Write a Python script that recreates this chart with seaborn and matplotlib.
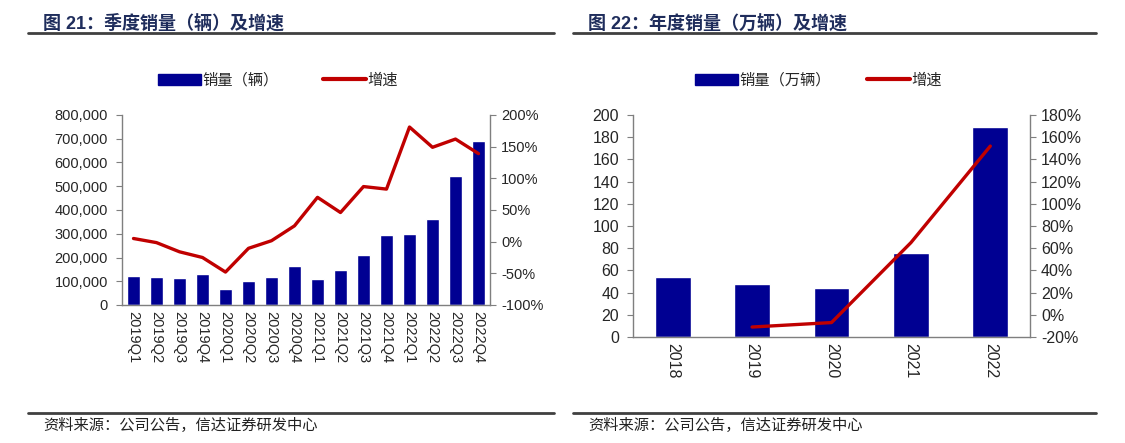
import matplotlib
matplotlib.use("Agg")
import matplotlib.pyplot as plt
import seaborn as sns
import numpy as np
import pandas as pd
from matplotlib.lines import Line2D
from matplotlib.patches import Patch
from matplotlib.ticker import FuncFormatter, PercentFormatter, FixedLocator

# ---- data ----
quarters = ["2019Q1", "2019Q2", "2019Q3", "2019Q4", "2020Q1", "2020Q2", "2020Q3", "2020Q4",
            "2021Q1", "2021Q2", "2021Q3", "2021Q4", "2022Q1", "2022Q2", "2022Q3", "2022Q4"]
q_sales = [124000, 116500, 114000, 132000, 67500, 102500, 116500, 165500,
           111000, 149000, 212000, 293000, 297500, 362000, 544500, 689000]
q_growth = [5, -1.5, -16, -25, -48, -10.5, 1.5, 25,
            70, 46, 87, 83, 181, 149, 162, 139]

years = ["2018", "2019", "2020", "2021", "2022"]
y_sales = [53.8, 47.8, 44.2, 75.8, 188.9]
y_growth = [np.nan, -11, -7, 65, 152]

titles = ["图 21：季度销量（辆）及增速", "图 22：年度销量（万辆）及增速"]
bar_labels = ["销量（辆）", "销量（万辆）"]
line_label = "增速"
source = "资料来源：公司公告，信达证券研发中心"

BLUE = "#000092"
RED = "#C00000"
GRID = "#7f7f7f"

sns.set_style("white")
plt.rcParams["font.family"] = ["Liberation Sans", "Noto Sans CJK SC", "DejaVu Sans"]
plt.rcParams["axes.unicode_minus"] = False

fig = plt.figure(figsize=(11.25, 4.43), dpi=100)

ax1 = fig.add_axes([122 / 1125, 1 - 305 / 443, 368 / 1125, 190 / 443])
ax2 = fig.add_axes([633 / 1125, 1 - 337 / 443, 397 / 1125, 222 / 443])

qdf = pd.DataFrame({"q": quarters, "sales": q_sales, "growth": q_growth, "pos": np.arange(len(quarters))})
ydf = pd.DataFrame({"y": years, "sales": y_sales, "growth": y_growth, "pos": np.arange(len(years))})


def style_axes(ax, axr, n, fs):
    for a in (ax, axr):
        for s in a.spines.values():
            s.set_color(GRID)
            s.set_linewidth(1)
        a.spines["top"].set_visible(False)
    ax.spines["right"].set_visible(False)
    axr.spines["left"].set_visible(False)
    axr.spines["bottom"].set_visible(False)
    ax.set_xlim(-0.5, n - 0.5)
    ax.set_xlabel("")
    ax.set_ylabel("")
    axr.set_ylabel("")
    axr.set_xlabel("")
    ax.tick_params(axis="y", direction="out", length=4, color=GRID, labelsize=fs, pad=6)
    axr.tick_params(axis="y", direction="out", length=4, color=GRID, labelsize=fs, pad=4)
    # ticks at category boundaries, labels at the centres
    ax.xaxis.set_minor_locator(FixedLocator(np.arange(n + 1) - 0.5))
    ax.tick_params(axis="x", which="major", length=0, labelsize=fs, labelrotation=-90, pad=4)
    ax.tick_params(axis="x", which="minor", direction="in", length=4, color=GRID)


# ---- left: quarterly ----
sns.barplot(data=qdf, x="q", y="sales", color=BLUE, width=0.58, saturation=1, ax=ax1)
ax1r = ax1.twinx()
sns.lineplot(data=qdf, x="pos", y="growth", color=RED, linewidth=2.4, ax=ax1r)
ax1.set_ylim(0, 800000)
ax1.set_yticks(np.arange(0, 800001, 100000))
ax1.yaxis.set_major_formatter(FuncFormatter(lambda v, p: f"{v:,.0f}"))
ax1r.set_ylim(-100, 200)
ax1r.set_yticks(np.arange(-100, 201, 50))
ax1r.yaxis.set_major_formatter(PercentFormatter(decimals=0))
style_axes(ax1, ax1r, len(quarters), 10.5)

# ---- right: yearly ----
sns.barplot(data=ydf, x="y", y="sales", color=BLUE, width=0.45, saturation=1, ax=ax2)
ax2r = ax2.twinx()
sns.lineplot(data=ydf.dropna(), x="pos", y="growth", color=RED, linewidth=2.4, ax=ax2r)
ax2.set_ylim(0, 200)
ax2.set_yticks(np.arange(0, 201, 20))
ax2r.set_ylim(-20, 180)
ax2r.set_yticks(np.arange(-20, 181, 20))
ax2r.yaxis.set_major_formatter(PercentFormatter(decimals=0))
style_axes(ax2, ax2r, len(years), 11.5)

# ---- legends ----
for lx, lbl, cs in [(158 / 1125, bar_labels[0], 2.9), (695 / 1125, bar_labels[1], 2.4)]:
    handles = [Patch(facecolor=BLUE, edgecolor=BLUE), Line2D([0], [0], color=RED, lw=3)]
    fig.legend(handles, [lbl, line_label], loc="center left", bbox_to_anchor=(lx, 1 - 80 / 443),
               ncol=2, frameon=False, handlelength=2.8, handleheight=0.7,
               handletextpad=0.1, columnspacing=cs, borderaxespad=0, borderpad=0,
               prop={"family": ["Noto Sans CJK SC"], "size": 11})

# ---- titles, rules, source ----
title_kw = dict(fontsize=13, fontweight="bold", color="#1f2d5c", va="center",
                family=["Liberation Sans", "Noto Sans CJK SC"])
fig.text(43 / 1125, 1 - 23 / 443, titles[0], **title_kw)
fig.text(588 / 1125, 1 - 23 / 443, titles[1], **title_kw)

for x0, x1 in [(28, 554), (573, 1096)]:
    for yy in (33, 413):
        fig.add_artist(Line2D([x0 / 1125, x1 / 1125], [1 - yy / 443, 1 - yy / 443],
                              color="#404040", lw=2))

src_kw = dict(fontsize=11, color="#222222", va="center", style="italic",
              family=["Noto Sans CJK SC", "DejaVu Sans"])
fig.text(43 / 1125, 1 - 425 / 443, source, **src_kw)
fig.text(588 / 1125, 1 - 425 / 443, source, **src_kw)

fig.savefig("out.png", dpi=100)
